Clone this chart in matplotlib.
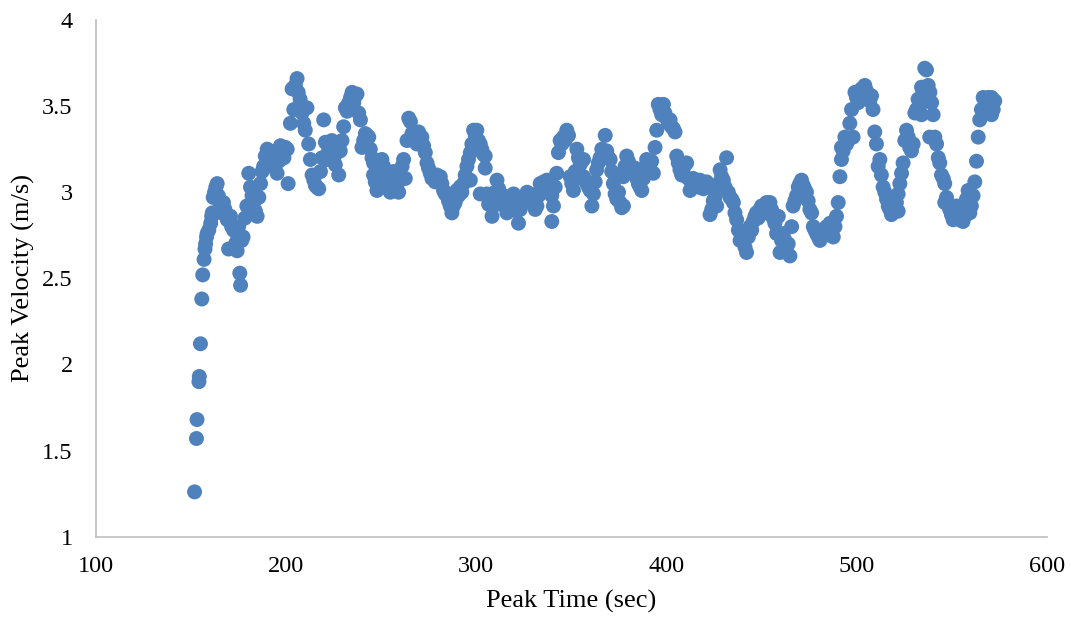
import matplotlib
matplotlib.use("Agg")
from matplotlib import pyplot as plt

plt.rcParams["font.family"] = ["Liberation Serif", "DejaVu Serif"]

# peak time (s) and peak velocity (m/s) for each detected peak
peak_time = [
    152.0, 153.0, 153.3, 154.3, 154.5, 155.1, 155.8, 156.3, 157.0, 157.5,
    157.8, 158.3, 158.6, 159.5, 160.5, 161.0, 161.3, 161.8, 162.5, 163.2,
    163.9, 164.5, 165.5, 166.3, 167.2, 168.0, 169.2, 169.9, 170.9, 171.5,
    172.5, 173.5, 174.4, 174.4, 175.2, 175.8, 176.2, 176.8, 177.5, 178.5,
    179.5, 180.5, 181.4, 182.2, 183.1, 184.0, 184.9, 185.8, 186.7, 187.5,
    188.3, 189.2, 190.2, 191.0, 191.9, 192.8, 193.6, 194.5, 195.4, 196.3,
    197.2, 198.1, 199.0, 199.8, 200.7, 201.2, 202.4, 203.3, 204.2, 205.0,
    205.9, 206.5, 207.5, 208.5, 209.4, 210.2, 211.1, 212.0, 212.9, 213.8,
    214.7, 215.5, 216.3, 217.3, 218.2, 219.0, 219.9, 220.8, 221.7, 222.5,
    223.4, 224.2, 225.1, 226.0, 226.9, 227.8, 228.6, 229.5, 230.4, 231.3,
    232.2, 233.1, 234.0, 234.8, 235.7, 236.6, 237.4, 238.3, 239.2, 240.0,
    240.9, 241.8, 242.7, 243.6, 244.4, 245.3, 246.1, 246.1, 247.0, 247.9,
    248.8, 249.6, 250.5, 251.4, 252.3, 253.2, 254.0, 254.9, 255.8, 256.7,
    257.6, 258.4, 259.3, 260.2, 261.1, 261.9, 262.8, 263.7, 264.6, 265.5,
    266.3, 267.2, 268.1, 268.9, 269.8, 270.7, 271.5, 272.4, 273.3, 274.2,
    275.0, 275.9, 276.8, 277.7, 278.5, 279.4, 280.3, 281.2, 282.0, 282.9,
    283.8, 284.7, 285.5, 286.4, 287.3, 288.1, 289.0, 289.9, 290.8, 291.6,
    292.5, 293.4, 294.3, 295.2, 296.0, 297.0, 297.0, 297.8, 298.7, 299.6,
    300.4, 301.3, 302.2, 302.2, 303.0, 303.9, 304.8, 304.8, 305.7, 306.6,
    307.5, 308.4, 309.2, 310.1, 311.0, 311.9, 312.7, 313.6, 314.5, 315.4,
    316.2, 317.1, 318.0, 318.9, 319.7, 320.6, 321.5, 322.3, 323.2, 324.1,
    325.0, 325.9, 326.8, 327.6, 328.5, 329.4, 330.3, 331.1, 332.0, 332.9,
    333.7, 334.6, 335.5, 336.4, 337.2, 338.1, 339.0, 339.8, 339.8, 340.7,
    341.6, 342.4, 343.3, 344.2, 345.1, 345.9, 346.8, 347.7, 348.6, 349.5,
    350.3, 351.2, 352.1, 353.0, 353.8, 354.7, 355.6, 356.5, 356.5, 357.3,
    358.2, 359.1, 360.0, 360.9, 361.7, 362.6, 363.4, 364.3, 365.2, 366.1,
    367.0, 367.9, 368.7, 369.6, 370.5, 371.3, 372.2, 373.1, 374.0, 374.9,
    375.7, 376.6, 377.4, 377.5, 378.3, 379.2, 380.1, 381.0, 381.8, 382.7,
    383.6, 384.5, 385.3, 386.2, 387.1, 388.0, 388.8, 389.7, 390.6, 391.5,
    392.3, 393.2, 394.1, 395.0, 395.8, 396.7, 397.6, 398.5, 399.3, 400.2,
    401.1, 402.0, 402.8, 403.7, 404.6, 405.5, 406.3, 407.2, 408.1, 409.0,
    409.8, 410.7, 411.6, 412.5, 413.4, 414.2, 415.1, 416.0, 416.9, 417.7,
    418.6, 419.5, 420.4, 421.2, 422.1, 423.0, 423.9, 424.7, 425.6, 426.5,
    427.4, 428.3, 429.1, 430.0, 430.9, 431.7, 432.6, 433.5, 434.4, 435.3,
    436.1, 437.0, 437.9, 438.8, 439.6, 440.5, 441.4, 442.2, 443.1, 444.0,
    444.9, 445.7, 446.6, 447.4, 448.3, 449.2, 450.1, 451.0, 451.8, 452.7,
    453.6, 454.5, 455.3, 456.2, 457.1, 458.0, 458.9, 459.8, 460.6, 461.5,
    462.4, 463.2, 464.1, 465.0, 465.9, 466.7, 467.6, 468.5, 469.4, 470.2,
    471.1, 472.0, 472.8, 473.7, 474.6, 475.5, 476.4, 477.3, 478.1, 479.0,
    479.9, 480.8, 481.7, 482.5, 483.4, 484.3, 485.2, 486.1, 487.0, 487.8,
    488.7, 489.5, 490.4, 491.3, 492.1, 492.1, 493.0, 493.9, 494.8, 495.6,
    496.5, 497.4, 498.2, 499.2, 500.0, 500.9, 501.8, 502.6, 503.5, 504.4,
    505.2, 506.1, 507.0, 507.9, 508.7, 509.6, 510.5, 511.4, 512.3, 513.1,
    514.0, 514.9, 515.8, 516.7, 517.5, 518.4, 519.3, 520.1, 521.0, 521.9,
    521.9, 522.8, 523.7, 524.5, 525.4, 526.3, 527.2, 528.0, 528.9, 529.8,
    530.7, 531.5, 532.4, 533.3, 534.2, 534.2, 535.0, 535.9, 536.8, 537.7,
    538.6, 539.5, 538.5, 540.3, 541.2, 542.1, 543.0, 543.8, 544.7, 545.6,
    546.4, 546.4, 547.3, 548.2, 549.0, 549.9, 550.8, 551.7, 552.5, 553.4,
    554.3, 555.2, 556.0, 556.9, 557.8, 558.7, 559.6, 560.4, 561.3, 562.2,
    563.1, 564.0, 564.8, 565.7, 566.6, 567.5, 568.3, 569.2, 570.1, 571.0,
    571.0, 571.9, 572.7,
]
peak_velocity = [
    1.26, 1.57, 1.68, 1.90, 1.93, 2.12, 2.38, 2.52, 2.61, 2.67,
    2.70, 2.74, 2.76, 2.78, 2.82, 2.86, 2.88, 2.97, 3.00, 3.03,
    3.05, 2.98, 2.92, 2.88, 2.94, 2.90, 2.84, 2.67, 2.86, 2.80,
    2.78, 2.70, 2.66, 2.72, 2.80, 2.53, 2.46, 2.72, 2.74, 2.85,
    2.92, 3.11, 3.03, 2.98, 2.94, 2.89, 2.86, 2.97, 3.05, 3.12,
    3.15, 3.21, 3.25, 3.22, 3.19, 3.15, 3.22, 3.24, 3.11, 3.18,
    3.27, 3.22, 3.20, 3.26, 3.25, 3.05, 3.40, 3.60, 3.48, 3.62,
    3.66, 3.58, 3.54, 3.46, 3.40, 3.36, 3.49, 3.28, 3.19, 3.10,
    3.07, 3.04, 3.03, 3.02, 3.12, 3.20, 3.42, 3.29, 3.19, 3.25,
    3.28, 3.30, 3.20, 3.16, 3.23, 3.10, 3.24, 3.30, 3.38, 3.49,
    3.47, 3.52, 3.55, 3.58, 3.52, 3.56, 3.57, 3.46, 3.42, 3.26,
    3.30, 3.34, 3.33, 3.32, 3.25, 3.20, 3.17, 3.10, 3.06, 3.01,
    3.12, 3.15, 3.19, 3.15, 3.11, 3.07, 3.05, 3.00, 3.10, 3.12,
    3.08, 3.04, 3.00, 3.10, 3.15, 3.19, 3.08, 3.30, 3.43, 3.41,
    3.34, 3.30, 3.32, 3.28, 3.35, 3.30, 3.32, 3.27, 3.23, 3.17,
    3.14, 3.11, 3.08, 3.10, 3.06, 3.10, 3.07, 3.09, 3.05, 3.01,
    2.99, 2.98, 2.95, 2.92, 2.88, 2.92, 2.94, 3.01, 2.98, 3.03,
    3.00, 3.05, 3.10, 3.15, 3.19, 3.23, 3.07, 3.28, 3.36, 3.33,
    3.36, 3.30, 3.28, 2.99, 3.25, 3.22, 3.21, 3.14, 2.99, 2.93,
    2.96, 2.86, 2.92, 3.00, 3.07, 3.02, 2.97, 2.93, 2.98, 2.92,
    2.88, 2.94, 2.97, 2.93, 2.99, 2.95, 2.89, 2.82, 2.90, 2.93,
    2.94, 2.96, 3.00, 2.97, 2.99, 2.96, 2.94, 2.90, 2.92, 2.98,
    3.05, 3.03, 3.06, 3.02, 3.07, 3.04, 3.00, 2.98, 2.83, 2.92,
    3.03, 3.11, 3.23, 3.30, 3.28, 3.32, 3.30, 3.36, 3.33, 3.09,
    3.05, 3.01, 3.12, 3.25, 3.20, 3.16, 3.18, 3.19, 3.09, 3.07,
    3.05, 3.03, 3.01, 2.92, 2.99, 3.06, 3.13, 3.17, 3.20, 3.25,
    3.23, 3.33, 3.24, 3.20, 3.19, 3.12, 3.05, 2.99, 2.96, 3.00,
    2.94, 2.91, 3.09, 2.92, 3.15, 3.21, 3.18, 3.15, 3.13, 3.11,
    3.14, 3.08, 3.05, 3.03, 3.01, 3.08, 3.14, 3.19, 3.16, 3.13,
    3.18, 3.11, 3.26, 3.36, 3.51, 3.48, 3.45, 3.51, 3.46, 3.43,
    3.40, 3.42, 3.38, 3.37, 3.35, 3.21, 3.17, 3.13, 3.10, 3.14,
    3.16, 3.17, 3.08, 3.01, 3.05, 3.08, 3.06, 3.04, 3.03, 3.07,
    3.05, 3.02, 3.04, 3.06, 3.03, 2.87, 2.90, 2.95, 2.97, 2.92,
    3.05, 3.13, 3.09, 3.07, 3.03, 3.20, 3.00, 2.97, 2.96, 2.94,
    2.88, 2.84, 2.78, 2.72, 2.75, 2.72, 2.68, 2.65, 2.74, 2.80,
    2.78, 2.83, 2.86, 2.88, 2.85, 2.90, 2.92, 2.91, 2.88, 2.94,
    2.90, 2.94, 2.90, 2.85, 2.82, 2.76, 2.86, 2.65, 2.72, 2.76,
    2.72, 2.68, 2.70, 2.63, 2.80, 2.92, 2.95, 2.98, 3.03, 3.05,
    3.07, 3.04, 3.02, 3.00, 2.95, 2.90, 2.88, 2.80, 2.78, 2.76,
    2.74, 2.72, 2.76, 2.78, 2.75, 2.80, 2.77, 2.82, 2.78, 2.74,
    2.80, 2.86, 2.94, 3.09, 3.19, 3.26, 3.24, 3.32, 3.28, 3.30,
    3.40, 3.48, 3.32, 3.58, 3.55, 3.52, 3.57, 3.60, 3.58, 3.62,
    3.59, 3.56, 3.53, 3.56, 3.48, 3.35, 3.28, 3.15, 3.19, 3.10,
    3.03, 3.00, 2.96, 2.92, 2.90, 2.87, 2.90, 2.92, 2.94, 2.89,
    2.99, 3.05, 3.11, 3.17, 3.30, 3.36, 3.32, 3.26, 3.24, 3.28,
    3.46, 3.48, 3.54, 3.50, 3.61, 3.45, 3.58, 3.72, 3.71, 3.62,
    3.58, 3.52, 3.32, 3.45, 3.32, 3.28, 3.20, 3.17, 3.10, 3.08,
    3.05, 2.94, 2.97, 2.93, 2.90, 2.87, 2.84, 2.88, 2.92, 2.86,
    2.84, 2.88, 2.83, 2.86, 2.96, 3.01, 2.88, 2.92, 2.98, 3.06,
    3.18, 3.32, 3.42, 3.48, 3.55, 3.50, 3.52, 3.55, 3.50, 3.45,
    3.55, 3.48, 3.53,
]

x_ticks = [100, 200, 300, 400, 500, 600]
y_ticks = [1, 1.5, 2, 2.5, 3, 3.5, 4]

fig = plt.figure(figsize=(10.71, 6.17), dpi=100)
ax = fig.add_axes([0.0893, 0.1302, 0.888, 0.8374])

ax.scatter(peak_time, peak_velocity, s=116, color="#4f81bd",
           edgecolors="none", zorder=3, clip_on=False)

ax.set_xlim(100, 600)
ax.set_ylim(1, 4)
ax.set_xticks(x_ticks)
ax.set_yticks(y_ticks)
ax.set_yticklabels([f"{v:g}" for v in y_ticks])

for side in ("top", "right"):
    ax.spines[side].set_visible(False)
for side in ("left", "bottom"):
    ax.spines[side].set_color("#c4c4c4")
    ax.spines[side].set_linewidth(1.3)

ax.tick_params(axis="both", length=0, labelsize=17.5, colors="black")
ax.tick_params(axis="x", pad=14)
ax.tick_params(axis="y", pad=16.5)

ax.set_xlabel("Peak Time (sec)", fontsize=19, labelpad=9)
ax.set_ylabel("Peak Velocity (m/s)", fontsize=19, labelpad=5)

fig.savefig("out.png", dpi=100)
